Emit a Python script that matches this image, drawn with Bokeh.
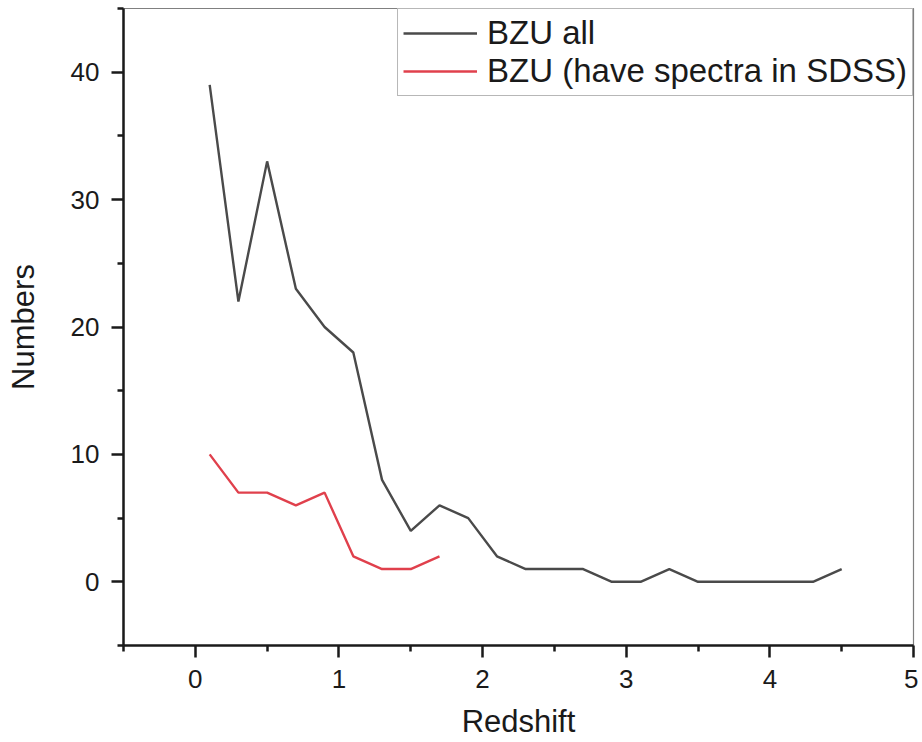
from bokeh.plotting import figure
from bokeh.models import FixedTicker, Legend, LegendItem
from bokeh.embed import file_html
from bokeh.resources import INLINE

# Data
z_all = [0.1, 0.3, 0.5, 0.7, 0.9, 1.1, 1.3, 1.5, 1.7, 1.9, 2.1, 2.3,
         2.5, 2.7, 2.9, 3.1, 3.3, 3.5, 3.7, 3.9, 4.1, 4.3, 4.5]
n_all = [39, 22, 33, 23, 20, 18, 8, 4, 6, 5, 2, 1,
         1, 1, 0, 0, 1, 0, 0, 0, 0, 0, 1]
z_sdss = [0.1, 0.3, 0.5, 0.7, 0.9, 1.1, 1.3, 1.5, 1.7]
n_sdss = [10, 7, 7, 6, 7, 2, 1, 1, 2]

x_major = [0, 1, 2, 3, 4, 5]
x_minor = [-0.5, 0.5, 1.5, 2.5, 3.5, 4.5]
y_major = [0, 10, 20, 30, 40]
y_minor = [-5, 5, 15, 25, 35, 45]

x_title = "Redshift"
y_title = "Numbers"
label_all = "BZU all"
label_sdss = "BZU (have spectra in SDSS)"

FONT = "Liberation Sans"

p = figure(width=918, height=742, x_range=(-0.5, 5), y_range=(-5, 45),
           min_border_left=123, min_border_right=5, min_border_top=8,
           min_border_bottom=97, output_backend="svg", toolbar_location=None,
           x_axis_label=x_title, y_axis_label=y_title)

p.grid.visible = False
p.outline_line_color = "#808080"
p.outline_line_width = 1.2
p.background_fill_color = "white"
p.border_fill_color = "white"

r_all = p.line(z_all, n_all, line_color="#4a4a4a", line_width=2.4)
r_sdss = p.line(z_sdss, n_sdss, line_color="#e0404c", line_width=2.4)

p.xaxis.ticker = FixedTicker(ticks=x_major, minor_ticks=x_minor)
p.yaxis.ticker = FixedTicker(ticks=y_major, minor_ticks=y_minor)

for ax in (p.xaxis, p.yaxis):
    ax.axis_line_width = 2.5
    ax.axis_line_color = "#1a1a1a"
    ax.major_tick_line_width = 2.5
    ax.minor_tick_line_width = 2.5
    ax.major_tick_line_color = "#1a1a1a"
    ax.minor_tick_line_color = "#1a1a1a"
    ax.major_tick_in = 0
    ax.minor_tick_in = 0
    ax.major_tick_out = 12
    ax.minor_tick_out = 6
    ax.major_label_text_font = FONT
    ax.major_label_text_font_size = "26px"
    ax.major_label_text_color = "#1a1a1a"
    ax.axis_label_text_font = FONT
    ax.axis_label_text_font_size = "31px"
    ax.axis_label_text_font_style = "normal"
    ax.axis_label_text_color = "#1a1a1a"

p.xaxis.major_label_standoff = 12
p.yaxis.major_label_standoff = 12
p.xaxis.axis_label_standoff = 13
p.yaxis.axis_label_standoff = 27

legend = Legend(items=[LegendItem(label=label_all, renderers=[r_all]),
                       LegendItem(label=label_sdss, renderers=[r_sdss])],
                location="top_right")
legend.margin = 0
legend.padding = 5
legend.spacing = 0
legend.glyph_width = 74
legend.label_standoff = 10
legend.label_text_font = FONT
legend.label_text_font_size = "33px"
legend.label_text_color = "#1a1a1a"
legend.border_line_color = "#707070"
legend.border_line_width = 1.5
legend.background_fill_alpha = 1.0
p.add_layout(legend)

open("out.html", "w").write(file_html(p, INLINE))
